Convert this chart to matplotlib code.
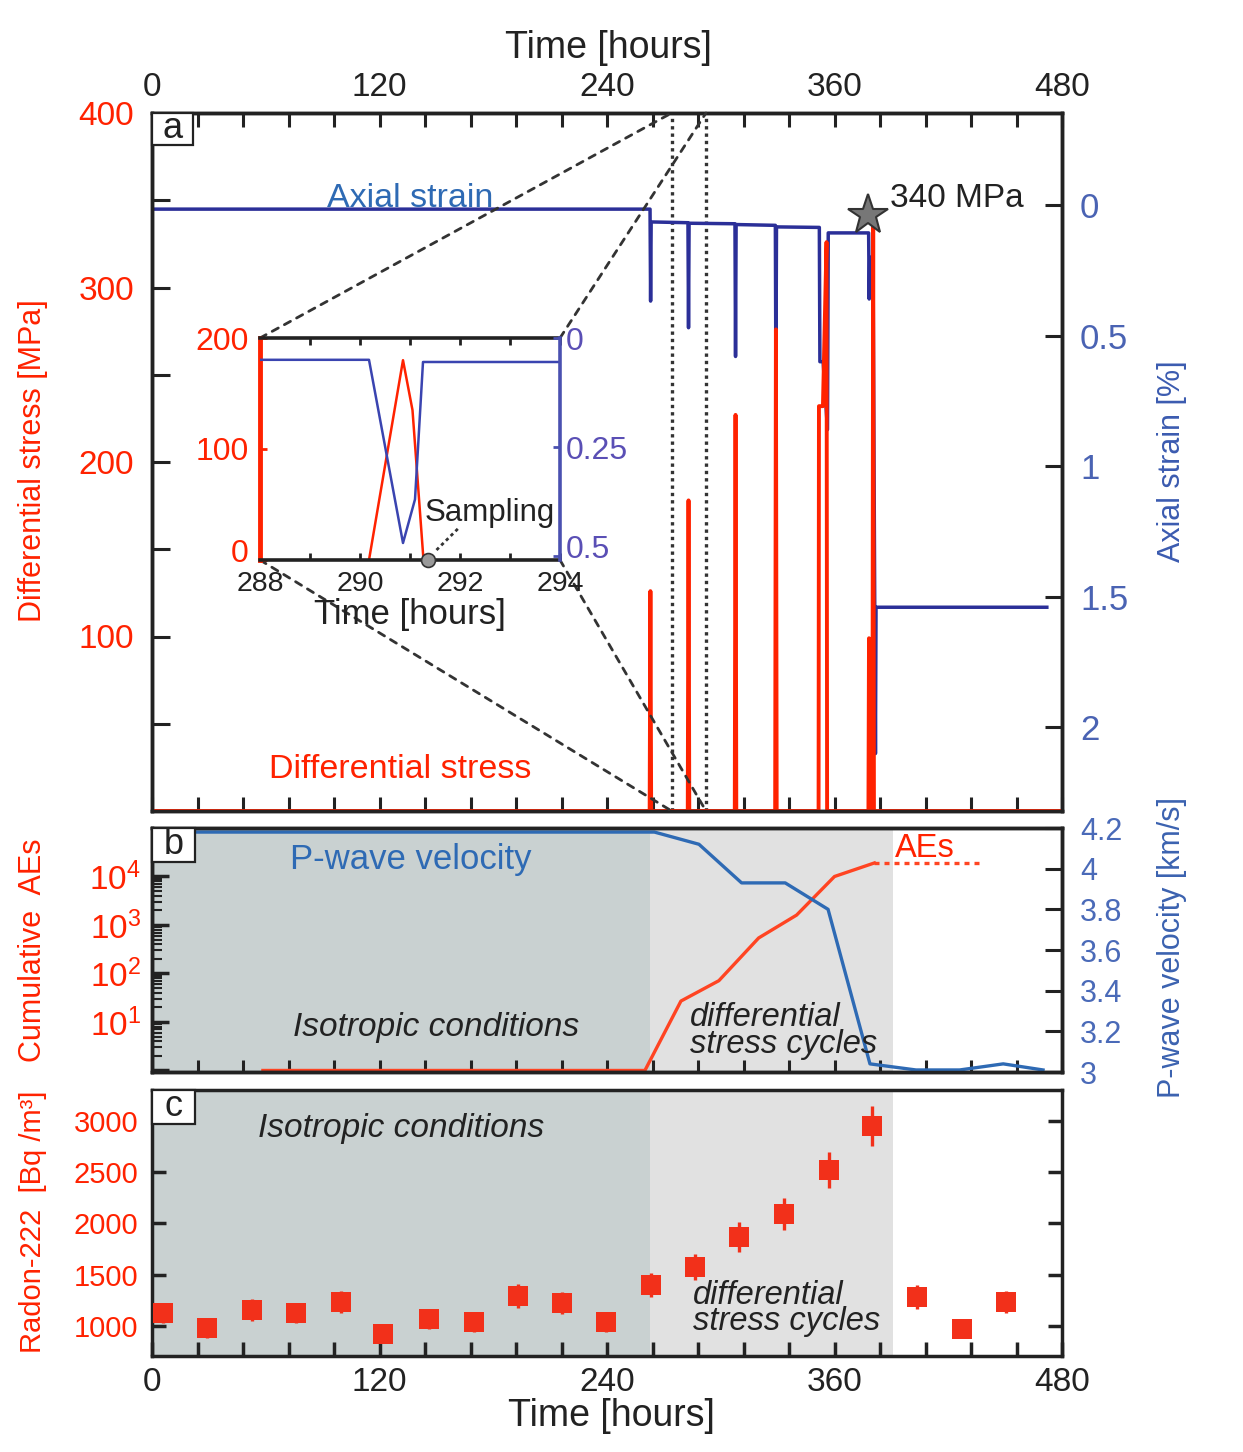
import matplotlib
matplotlib.use('Agg')
import matplotlib.pyplot as plt
import matplotlib.transforms as mtransforms
import numpy as np
from matplotlib.patches import ConnectionPatch, Rectangle
from matplotlib.ticker import FixedLocator, FuncFormatter, NullFormatter

plt.rcParams['font.family'] = ['Liberation Sans', 'DejaVu Sans']
plt.rcParams['mathtext.fontset'] = 'custom'
plt.rcParams['mathtext.rm'] = 'Liberation Sans'
plt.rcParams['mathtext.it'] = 'Liberation Sans:italic'

RED = '#ff2200'
LRED = '#ff4422'
NAVY = '#2b2f98'
SBLUE = '#4a63b3'
PBLUE = '#2e6ab4'
INK = '#222222'
DARKBG = '#c9d1d1'
LIGHTBG = '#e1e1e1'

# ---------------- data ----------------
hour_ticks = list(range(0, 481, 24))

# panel a: differential stress [MPa]
stress_t = [0, 262.5, 262.9, 263.3, 282.6, 283.0, 283.4, 307.4, 307.8, 308.2,
            328.7, 329.1, 329.5, 351.6, 351.8, 353.9, 355.8, 356.1,
            377.9, 378.2, 378.5, 380.0, 380.4, 380.8, 480]
stress_v = [0, 0, 126, 0, 0, 178, 0, 0, 227, 0,
            0, 276, 0, 0, 232, 232, 326, 0,
            0, 99, 0, 0, 340, 0, 0]
# panel a: axial strain [%]
strain_t = [0, 262.7, 263.0, 263.3, 282.7, 283.0, 283.3, 307.5, 307.8, 308.1,
            328.8, 329.1, 329.4, 352.0, 352.3, 354.0, 356.3, 356.7,
            378.0, 378.3, 378.6, 380.4, 381.6, 381.9, 472]
strain_v = [0.016, 0.016, 0.368, 0.065, 0.068, 0.47, 0.07, 0.072, 0.58, 0.075,
            0.078, 0.68, 0.084, 0.086, 0.60, 0.60, 0.86, 0.107,
            0.107, 0.36, 0.20, 0.30, 2.10, 1.54, 1.54]
strain_ticks = [0, 0.5, 1, 1.5, 2]
strain_labels = ['0', '0.5', '1', '1.5', '2']

# inset (288-294 h)
in_stress_t = [290.18, 290.86, 291.05, 291.27]
in_stress_v = [0, 180, 135, 0]
in_strain_t = [288, 290.18, 290.86, 291.1, 291.26, 294]
in_strain_v = [0.05, 0.05, 0.47, 0.37, 0.055, 0.055]
sample_t, sample_v = 291.36, 0

# panel b: cumulative AEs and P-wave velocity
ae_t = [58.5, 260, 279, 299, 320, 340, 360, 381]
ae_v = [1, 1, 27, 71, 540, 1600, 10000, 19000]
ae_tail_t = [381, 439]
ae_tail_v = [19000, 19000]
pw_t = [0, 265, 288.5, 311, 334, 356.6, 378.7, 403, 426, 449, 470]
pw_v = [4.18, 4.18, 4.12, 3.93, 3.93, 3.80, 3.04, 3.01, 3.01, 3.04, 3.01]
pw_ticks = [3, 3.2, 3.4, 3.6, 3.8, 4, 4.2]
pw_labels = ['3', '3.2', '3.4', '3.6', '3.8', '4', '4.2']

# panel c: radon-222
rn_t = [5.8, 29, 52.7, 76, 99.7, 122, 146, 170, 193, 216, 239.5,
        263, 286.4, 309.6, 333.4, 357, 380, 403.5, 427, 450.5]
rn_v = [1124, 978, 1153, 1124, 1232, 919, 1066, 1036, 1290, 1222, 1036,
        1398, 1574, 1867, 2092, 2522, 2952, 1280, 968, 1232]
rn_err = [100, 100, 105, 100, 110, 90, 100, 95, 115, 110, 95,
          117, 130, 142, 156, 176, 195, 115, 90, 110]

iso_end, cyc_end = 262.5, 391

W, H = 1243, 1452
fig = plt.figure(figsize=(W / 100, H / 100), dpi=100)


def px(x0, y0, x1, y1):
    return [x0 / W, 1 - y1 / H, (x1 - x0) / W, (y1 - y0) / H]


def style_spines(ax, lw=2.5):
    for sp in ax.spines.values():
        sp.set_linewidth(lw)
        sp.set_color(INK)


def hour_fmt(v, p):
    return f'{v:.0f}' if round(v) % 120 == 0 else ''


def panel_box(ax, letter, wpx, hpx, axw, axh):
    w, h = wpx / axw, hpx / axh
    ax.add_patch(Rectangle((0, 1 - h), w, h, transform=ax.transAxes, fc='white',
                           ec=INK, lw=1.6, zorder=20, clip_on=False))
    ax.text(w / 2, 1 - h / 2, letter, transform=ax.transAxes, ha='center', va='center',
            fontsize=26, color=INK, zorder=21)


# ---------------- panel a ----------------
ax_s = fig.add_axes(px(152, 113, 1062, 811))
ax_p = ax_s.twinx()
ax_s.yaxis.tick_right()
ax_s.yaxis.set_label_position('right')
ax_p.yaxis.tick_left()

ax_s.plot(strain_t, strain_v, color=NAVY, lw=2.5)
ax_s.set_xlim(0, 480)
ax_s.set_ylim(2.32, -0.352)
ax_p.plot(stress_t, stress_v, color=RED, lw=2.8)
ax_p.set_ylim(0, 400)

ax_s.xaxis.set_major_locator(FixedLocator(hour_ticks))
ax_s.xaxis.set_major_formatter(FuncFormatter(hour_fmt))
ax_s.tick_params(axis='x', direction='in', top=True, bottom=True, length=10, width=2.2,
                 color=INK, labeltop=True, labelbottom=False, labelsize=24, pad=7,
                 labelcolor=INK)
ax_s.set_yticks(strain_ticks, labels=strain_labels)
ax_s.tick_params(axis='y', direction='in', length=12, width=2.2, color=INK,
                 labelsize=25, labelcolor=SBLUE, pad=13)
ax_p.set_yticks(list(range(50, 401, 50)),
                labels=['', '100', '', '200', '', '300', '', '400'])
ax_p.tick_params(axis='y', direction='in', length=13, width=2.2, color=INK,
                 labelsize=24, labelcolor=RED, pad=13)
style_spines(ax_s)
style_spines(ax_p)

for t in (274.1, 292.2):
    ax_s.axvline(t, color='#333333', ls=(0, (1, 1.2)), lw=2.4, zorder=1)

ax_p.text(136, 351, 'Axial strain', color=PBLUE, fontsize=24.5, ha='center', va='center')
ax_p.text(130.8, 23.6, 'Differential stress', color=RED, fontsize=24.5,
          ha='center', va='center')
ax_p.text(424.6, 351, '340 MPa', color=INK, fontsize=24, ha='center', va='center')
ax_p.plot([377.7], [341.6], marker='*', ms=30, color='#777777', mec='#333333',
          mew=1.5, zorder=6, clip_on=False)
panel_box(ax_p, 'a', 41, 32, 910, 698)

# ---------------- inset ----------------
ax_in = fig.add_axes(px(260, 338, 560, 560))
ax_in.set_zorder(5)
ax_in2 = ax_in.twinx()
ax_in2.set_zorder(6)
ax_in.set_facecolor('white')
ax_in.plot(in_stress_t, in_stress_v, color=RED, lw=1.8)
ax_in2.plot(in_strain_t, in_strain_v, color='#3a44b0', lw=1.8)
ax_in.plot([sample_t], [sample_v], 'o', ms=10, color='#9a9a9a', mec='#333333',
           mew=1.2, clip_on=False, zorder=8)
ax_in.plot([291.53, 292.0], [9, 30], color='#333333', ls=(0, (1.2, 1.2)), lw=2)
ax_in.text(291.3, 42, 'Sampling', fontsize=22.5, color=INK, ha='left', va='center')
ax_in.set_xlim(288, 294)
ax_in.set_ylim(0, 200)
ax_in2.set_ylim(0.509, 0)
ax_in.set_xticks(list(range(288, 295)),
                 labels=['288', '', '290', '', '292', '', '294'])
ax_in.tick_params(axis='x', direction='in', top=True, length=5, width=2, color=INK,
                  labelsize=20.5, pad=8, labelcolor=INK)
ax_in.set_yticks([0, 100, 200], labels=['0', '100', '200'])
ax_in.tick_params(axis='y', direction='in', length=5, width=2, color=RED,
                  labelcolor=RED, labelsize=23, pad=8)
ax_in2.set_yticks([0, 0.25, 0.5], labels=['0', '0.25', '0.5'])
ax_in2.tick_params(axis='y', direction='in', length=5, width=2, color='#4a50b0',
                   labelcolor='#5a4fb5', labelsize=23, pad=4)
for name in ('top', 'bottom'):
    ax_in.spines[name].set_linewidth(2.6)
    ax_in.spines[name].set_color(INK)
ax_in.spines['left'].set_color(RED)
ax_in.spines['left'].set_linewidth(3.5)
ax_in.spines['right'].set_visible(False)
for name in ('left', 'top', 'bottom'):
    ax_in2.spines[name].set_visible(False)
ax_in2.spines['right'].set_color('#4a50b0')
ax_in2.spines['right'].set_linewidth(2.6)
ax_in.text(0.5, -0.245, 'Time [hours]', transform=ax_in.transAxes, fontsize=25,
           ha='center', va='center', color=INK)

# nudge the lowest y labels of the inset up so they clear the time labels
for tk in (ax_in.yaxis.get_major_ticks()[0], ax_in2.yaxis.get_major_ticks()[-1]):
    lab = tk.label1 if tk in ax_in.yaxis.get_major_ticks() else tk.label2
    lab.set_transform(lab.get_transform() +
                      mtransforms.ScaledTranslation(0, 7 / 72, fig.dpi_scale_trans))

for xa, ya, tb, yb in [(0, 1, 274.1, 1), (1, 1, 292.2, 1), (0, 0, 274.1, 0), (1, 0, 292.2, 0)]:
    con = ConnectionPatch(xyA=(xa, ya), coordsA=ax_in.transAxes, xyB=(tb, yb),
                          coordsB=ax_s.get_xaxis_transform(), color='#333333',
                          lw=2, ls=(0, (2.5, 2.5)), zorder=1)
    fig.add_artist(con)

# ---------------- panel b ----------------
ax_b = fig.add_axes(px(152, 828, 1062, 1072))
ax_b2 = ax_b.twinx()
ax_b.axvspan(0, iso_end, color=DARKBG, lw=0, zorder=0)
ax_b.axvspan(iso_end, cyc_end, color=LIGHTBG, lw=0, zorder=0)
ax_b.set_yscale('log')
ax_b.plot(ae_t, ae_v, color=LRED, lw=2.4)
ax_b.plot(ae_tail_t, ae_tail_v, color=LRED, lw=2.4, ls=(0, (1.5, 1.5)))
ax_b.set_xlim(0, 480)
ax_b.set_ylim(0.93, 1e5)
ax_b2.plot(pw_t, pw_v, color=PBLUE, lw=2.4)
ax_b2.set_ylim(3, 4.2)

ax_b.yaxis.set_major_locator(FixedLocator([1, 10, 100, 1000, 10000]))
ax_b.yaxis.set_major_formatter(FuncFormatter(
    lambda v, p: '' if v < 5 else r'$\mathregular{10^{%d}}$' % round(np.log10(v))))
ax_b.yaxis.set_minor_locator(FixedLocator([k * 10 ** d for d in range(4) for k in range(2, 10)]))
ax_b.yaxis.set_minor_formatter(NullFormatter())
ax_b.tick_params(axis='y', which='major', direction='in', length=12, width=2.5, color=INK,
                 labelsize=24, labelcolor=RED, pad=8)
ax_b.tick_params(axis='y', which='minor', direction='in', length=7, width=1.5, color=INK)
ax_b.xaxis.set_major_locator(FixedLocator(hour_ticks))
ax_b.xaxis.set_major_formatter(NullFormatter())
ax_b.tick_params(axis='x', direction='in', length=9, width=2.2, color=INK)
ax_b2.set_yticks(pw_ticks, labels=pw_labels)
ax_b2.tick_params(axis='y', direction='in', length=12, width=2.2, color=INK,
                  labelsize=22, labelcolor='#4a6ab8', pad=13)
style_spines(ax_b)
style_spines(ax_b2)

ax_b2.text(0.2846, 0.869, 'P-wave velocity', transform=ax_b2.transAxes, color=PBLUE,
           fontsize=25, ha='center', va='center')
ax_b2.text(0.849, 0.918, 'AEs', transform=ax_b2.transAxes, color=RED,
           fontsize=23.5, ha='center', va='center')
ax_b2.text(0.312, 0.184, 'Isotropic conditions', transform=ax_b2.transAxes, color=INK,
           fontsize=24, style='italic', ha='center', va='center')
ax_b2.text(0.591, 0.168, 'differential\nstress cycles', transform=ax_b2.transAxes,
           color=INK, fontsize=23.5, style='italic', ha='left', va='center',
           linespacing=0.8)
panel_box(ax_b2, 'b', 43, 34, 910, 244)

# ---------------- panel c ----------------
ax_c = fig.add_axes(px(152, 1090, 1062, 1356))
ax_c.axvspan(0, iso_end, color=DARKBG, lw=0, zorder=0)
ax_c.axvspan(iso_end, cyc_end, color=LIGHTBG, lw=0, zorder=0)
ax_c.errorbar(rn_t, rn_v, yerr=rn_err, fmt='s', ms=14, color='#f2301a',
              ecolor='#f2301a', elinewidth=2.4, capsize=0, mew=0, zorder=3)
ax_c.set_xlim(0, 480)
ax_c.set_ylim(704, 3303)
ax_c.set_yticks([1000, 1500, 2000, 2500, 3000])
ax_c.tick_params(axis='y', direction='in', left=True, right=True, length=10, width=2.5,
                 color=INK, labelsize=21, labelcolor=RED, pad=10)
ax_c.xaxis.set_major_locator(FixedLocator(hour_ticks))
ax_c.xaxis.set_major_formatter(FuncFormatter(hour_fmt))
ax_c.tick_params(axis='x', direction='in', length=10, width=2.5, color=INK,
                 labelsize=24, pad=8, labelcolor=INK)
style_spines(ax_c)
ax_c.text(0.274, 0.857, 'Isotropic conditions', transform=ax_c.transAxes, color=INK,
          fontsize=24, style='italic', ha='center', va='center')
ax_c.text(0.594, 0.18, 'differential\nstress cycles', transform=ax_c.transAxes,
          color=INK, fontsize=23.5, style='italic', ha='left', va='center',
          linespacing=0.8)
panel_box(ax_c, 'c', 43, 34, 910, 266)

# ---------------- axis titles ----------------
fig.text(608 / W, 1 - 48 / H, 'Time [hours]', fontsize=27, ha='center', va='center', color=INK)
fig.text(611 / W, 1 - 1416 / H, 'Time [hours]', fontsize=27, ha='center', va='center', color=INK)
fig.text(33 / W, 1 - 461 / H, 'Differential stress [MPa]', rotation=90, fontsize=22,
         ha='center', va='center', color=RED)
fig.text(1172 / W, 1 - 461 / H, 'Axial strain [%]', rotation=90, fontsize=22,
         ha='center', va='center', color='#3b5bb0')
fig.text(33 / W, 1 - 950 / H, 'Cumulative  AEs', rotation=90, fontsize=22,
         ha='center', va='center', color=RED)
fig.text(1172 / W, 1 - 948 / H, 'P-wave velocity [km/s]', rotation=90, fontsize=22,
         ha='center', va='center', color='#3b62b0')
fig.text(33 / W, 1 - 1222 / H, 'Radon-222  [Bq /m³]', rotation=90, fontsize=21,
         ha='center', va='center', color=RED)

fig.savefig('out.png', dpi=100)
